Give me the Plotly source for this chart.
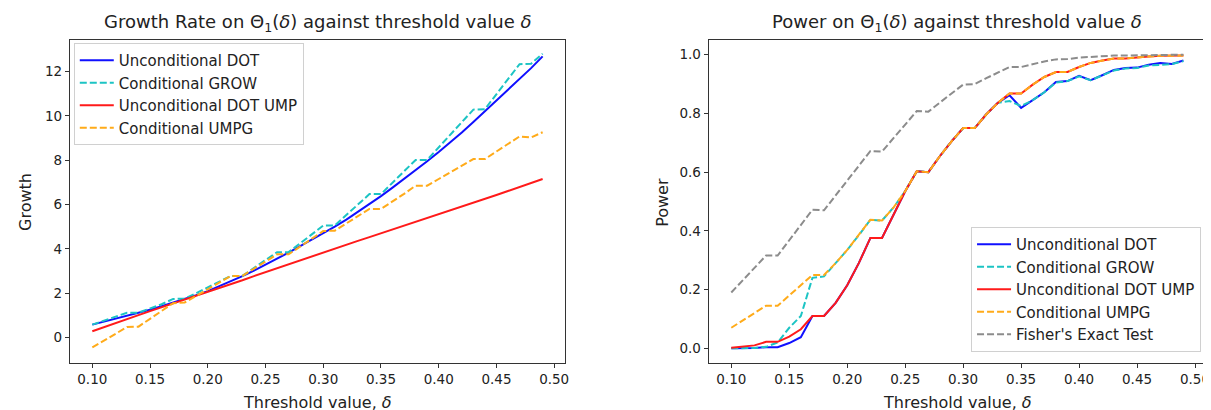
import plotly.graph_objects as go

delta = [0.10, 0.11, 0.12, 0.13, 0.14, 0.15, 0.16, 0.17, 0.18, 0.19,
         0.20, 0.21, 0.22, 0.23, 0.24, 0.25, 0.26, 0.27, 0.28, 0.29,
         0.30, 0.31, 0.32, 0.33, 0.34, 0.35, 0.36, 0.37, 0.38, 0.39,
         0.40, 0.41, 0.42, 0.43, 0.44, 0.45, 0.46, 0.47, 0.48, 0.49]

# Growth panel
growth_dot = [0.58, 0.71, 0.84, 0.98, 1.11, 1.25, 1.41, 1.57, 1.74, 1.91,
              2.09, 2.31, 2.54, 2.77, 3.02, 3.28, 3.55, 3.83, 4.12, 4.41,
              4.70, 5.00, 5.32, 5.66, 6.01, 6.38, 6.76, 7.15, 7.55, 7.95,
              8.37, 8.80, 9.25, 9.72, 10.20, 10.68, 11.16, 11.65, 12.15, 12.68]
growth_grow = [0.58, 0.77, 0.96, 1.12, 1.12, 1.30, 1.50, 1.74, 1.75, 2.00,
               2.25, 2.50, 2.78, 2.78, 3.15, 3.50, 3.85, 3.85, 4.25, 4.65,
               5.05, 5.05, 5.53, 6.00, 6.47, 6.47, 6.99, 7.50, 8.01, 8.01,
               8.57, 9.13, 9.70, 10.28, 10.30, 10.97, 11.65, 12.33, 12.35, 12.80]
growth_ump = [0.28, 0.47, 0.65, 0.83, 1.01, 1.19, 1.36, 1.53, 1.70, 1.87,
              2.04, 2.22, 2.40, 2.58, 2.77, 2.95, 3.13, 3.31, 3.49, 3.67,
              3.85, 4.02, 4.19, 4.36, 4.53, 4.70, 4.87, 5.04, 5.21, 5.38,
              5.55, 5.72, 5.89, 6.07, 6.25, 6.43, 6.61, 6.79, 6.97, 7.15]
growth_umpg = [-0.45, -0.15, 0.15, 0.47, 0.49, 0.85, 1.20, 1.55, 1.58, 1.88,
               2.15, 2.48, 2.78, 2.78, 3.10, 3.42, 3.75, 3.75, 4.10, 4.45,
               4.80, 4.82, 5.15, 5.48, 5.80, 5.80, 6.12, 6.48, 6.85, 6.85,
               7.15, 7.45, 7.75, 8.05, 8.05, 8.40, 8.72, 9.07, 9.02, 9.26]

# Power panel
power_dot = [0.000, 0.000, 0.001, 0.004, 0.004, 0.018, 0.038, 0.110, 0.110, 0.155,
             0.215, 0.290, 0.376, 0.376, 0.455, 0.535, 0.603, 0.600, 0.655, 0.705,
             0.750, 0.750, 0.797, 0.836, 0.862, 0.819, 0.845, 0.872, 0.907, 0.910,
             0.928, 0.913, 0.930, 0.948, 0.955, 0.956, 0.966, 0.972, 0.968, 0.980]
power_grow = [0.000, 0.000, 0.001, 0.005, 0.020, 0.070, 0.110, 0.240, 0.245, 0.290,
              0.335, 0.385, 0.438, 0.435, 0.480, 0.535, 0.603, 0.600, 0.655, 0.705,
              0.750, 0.750, 0.797, 0.836, 0.842, 0.825, 0.845, 0.872, 0.905, 0.910,
              0.926, 0.913, 0.930, 0.946, 0.953, 0.955, 0.963, 0.966, 0.968, 0.978]
power_ump = [0.002, 0.005, 0.010, 0.022, 0.022, 0.040, 0.065, 0.110, 0.110, 0.155,
             0.215, 0.290, 0.376, 0.376, 0.455, 0.535, 0.603, 0.600, 0.655, 0.705,
             0.750, 0.750, 0.797, 0.836, 0.868, 0.868, 0.898, 0.924, 0.941, 0.941,
             0.958, 0.972, 0.980, 0.987, 0.987, 0.991, 0.994, 0.996, 0.996, 0.997]
power_umpg = [0.070, 0.095, 0.120, 0.145, 0.145, 0.180, 0.215, 0.250, 0.250, 0.290,
              0.335, 0.385, 0.438, 0.435, 0.480, 0.535, 0.603, 0.600, 0.655, 0.705,
              0.750, 0.750, 0.797, 0.836, 0.868, 0.868, 0.898, 0.924, 0.941, 0.941,
              0.958, 0.972, 0.980, 0.987, 0.987, 0.991, 0.994, 0.996, 0.996, 0.997]
power_fisher = [0.190, 0.232, 0.274, 0.316, 0.316, 0.368, 0.420, 0.472, 0.470, 0.520,
                0.570, 0.620, 0.672, 0.670, 0.715, 0.760, 0.808, 0.806, 0.838, 0.868,
                0.898, 0.900, 0.920, 0.940, 0.958, 0.958, 0.968, 0.977, 0.984, 0.985,
                0.990, 0.993, 0.995, 0.997, 0.997, 0.998, 0.999, 0.999, 0.999, 1.000]

names = ["Unconditional DOT", "Conditional GROW", "Unconditional DOT UMP",
         "Conditional UMPG", "Fisher's Exact Test"]
x_ticks = [0.10, 0.15, 0.20, 0.25, 0.30, 0.35, 0.40, 0.45, 0.50]
growth_ticks = [0, 2, 4, 6, 8, 10, 12]
power_ticks = [0.0, 0.2, 0.4, 0.6, 0.8, 1.0]

colors = ["#1010ff", "#1cc4c4", "#ff1a1a", "#ffab1a", "#8c8c8c"]
dashes = ["solid", "7px,3px", "solid", "7px,3px", "7px,3px"]

FONT = "DejaVu Sans"
W, H = 1211, 410

fig = go.Figure()

growth_series = [growth_dot, growth_grow, growth_ump, growth_umpg]
for i, ys in enumerate(growth_series):
    fig.add_trace(go.Scatter(x=delta, y=ys, mode="lines", name=names[i],
                             line=dict(color=colors[i], width=2, dash=dashes[i]),
                             xaxis="x", yaxis="y", legend="legend"))

power_series = [power_dot, power_grow, power_ump, power_umpg, power_fisher]
for i, ys in enumerate(power_series):
    fig.add_trace(go.Scatter(x=delta, y=ys, mode="lines", name=names[i],
                             line=dict(color=colors[i], width=2, dash=dashes[i]),
                             xaxis="x2", yaxis="y2", legend="legend2"))

ydom = [55 / H, 378 / H]
axis_common = dict(showline=True, linecolor="#333", linewidth=1, mirror=True,
                   ticks="outside", ticklen=4, tickcolor="#333", showgrid=False,
                   zeroline=False, tickfont=dict(family=FONT, size=13.5, color="#222"))

legend_font = dict(family=FONT, size=15, color="#222")
fig.update_layout(
    width=W, height=H,
    margin=dict(l=0, r=0, t=0, b=0),
    paper_bgcolor="white", plot_bgcolor="white",
    font=dict(family=FONT, size=13, color="#222"),
    xaxis=dict(domain=[62 / W, 559 / W], range=[0.0805, 0.5095], anchor="y",
               tickvals=x_ticks, tickformat=".2f", **axis_common),
    yaxis=dict(domain=ydom, range=[-1.15, 13.42], anchor="x",
               tickvals=growth_ticks, **axis_common),
    xaxis2=dict(domain=[703 / W, 1202 / W], range=[0.0805, 0.5095], anchor="y2",
                tickvals=x_ticks, tickformat=".2f", **axis_common),
    yaxis2=dict(domain=ydom, range=[-0.05, 1.05], anchor="x2",
                tickvals=power_ticks, tickformat=".1f", **axis_common),
    legend=dict(x=66 / W, y=1 - 35 / H, xanchor="left", yanchor="top",
                bgcolor="rgba(255,255,255,0.8)", bordercolor="#d0d0d0", borderwidth=1,
                font=legend_font, itemwidth=34),
    legend2=dict(x=1197 / W, y=1 - 344 / H, xanchor="right", yanchor="bottom",
                 bgcolor="rgba(255,255,255,0.8)", bordercolor="#d0d0d0", borderwidth=1,
                 font=legend_font, itemwidth=34),
    showlegend=True,
)

title_font = dict(family=FONT, size=18, color="#222")
label_font = dict(family=FONT, size=16, color="#222")
ann = []
ann.append(dict(text="Growth Rate on \u0398<sub>1</sub>(<i>\u03b4</i>) against threshold value <i>\u03b4</i>",
                x=310.5 / W, y=1 - 15 / H, xref="paper", yref="paper",
                xanchor="center", yanchor="middle", showarrow=False, font=title_font))
ann.append(dict(text="Power on \u0398<sub>1</sub>(<i>\u03b4</i>) against threshold value <i>\u03b4</i>",
                x=952.5 / W, y=1 - 15 / H, xref="paper", yref="paper",
                xanchor="center", yanchor="middle", showarrow=False, font=title_font))
for cx in (310.5, 952.5):
    ann.append(dict(text="Threshold value, <i>\u03b4</i>", x=cx / W, y=1 - 394 / H,
                    xref="paper", yref="paper", xanchor="center", yanchor="middle",
                    showarrow=False, font=label_font))
ann.append(dict(text="Growth", x=17 / W, y=1 - 194 / H, xref="paper", yref="paper",
                xanchor="center", yanchor="middle", textangle=-90, showarrow=False,
                font=label_font))
ann.append(dict(text="Power", x=656 / W, y=1 - 194 / H, xref="paper", yref="paper",
                xanchor="center", yanchor="middle", textangle=-90, showarrow=False,
                font=label_font))
fig.update_layout(annotations=ann)

fig.write_html("out.html")
